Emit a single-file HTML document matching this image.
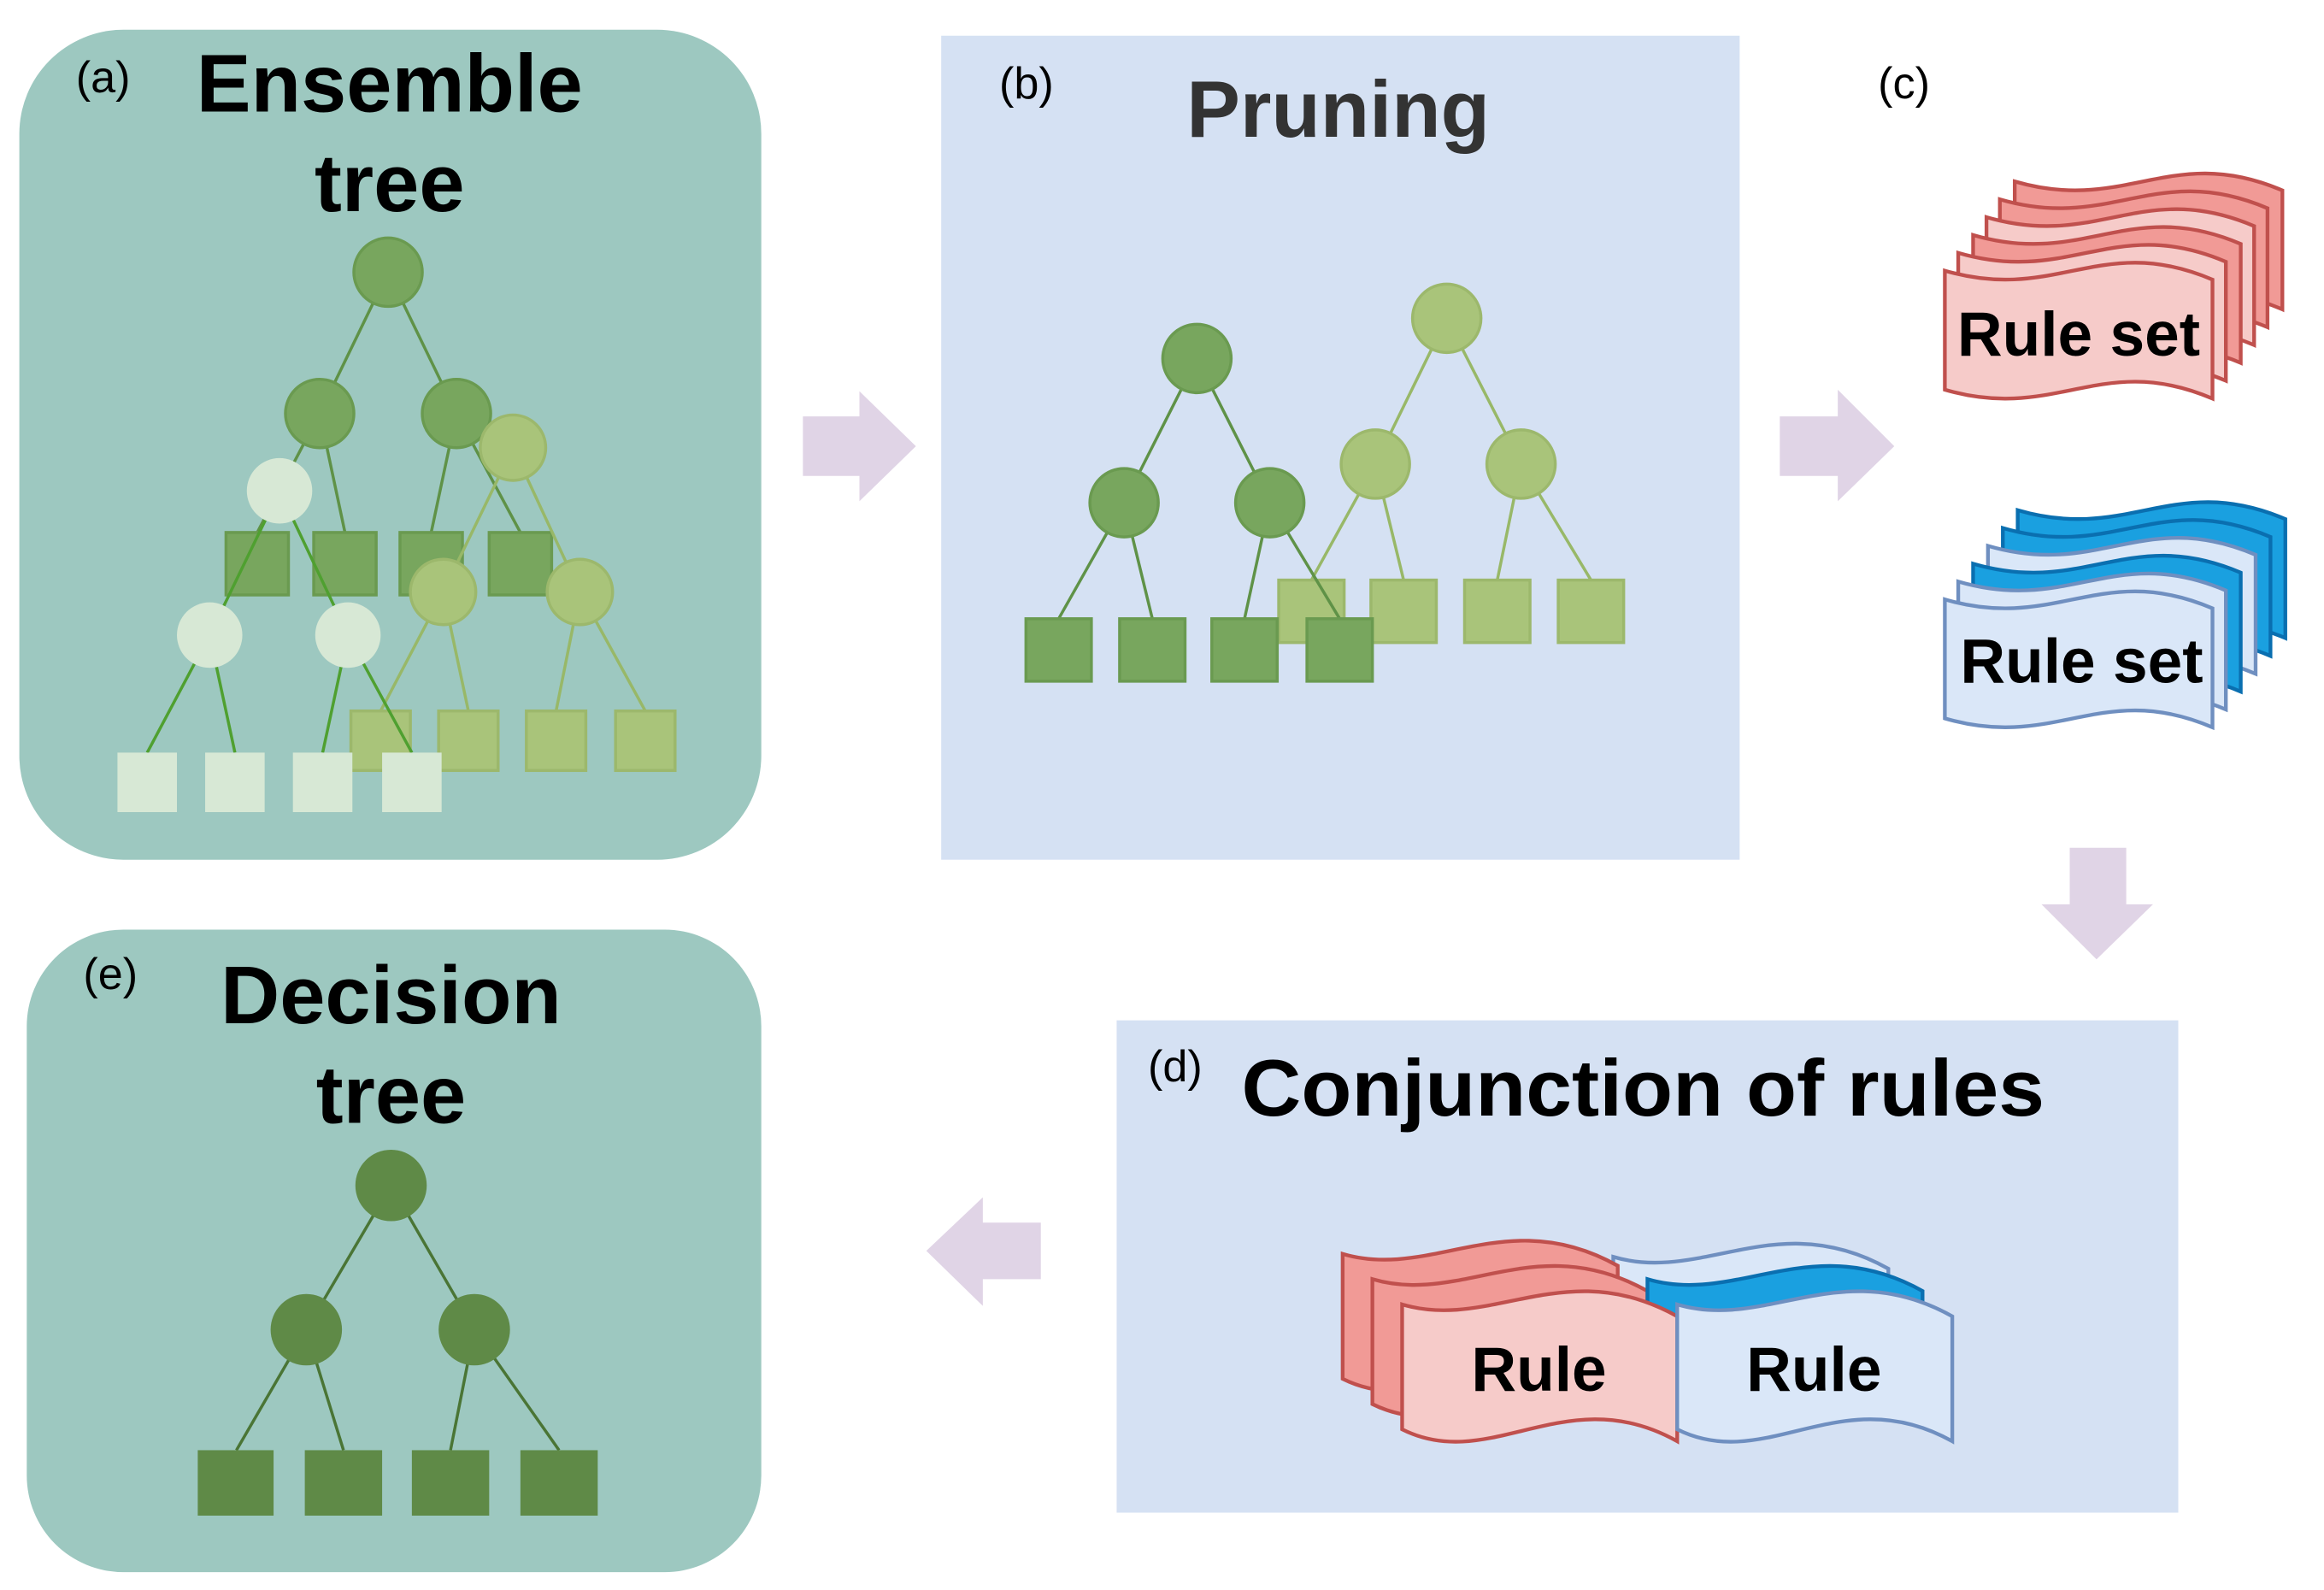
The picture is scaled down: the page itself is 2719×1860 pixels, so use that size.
<!DOCTYPE html>
<html><head><style>html,body{margin:0;padding:0;background:#fff}svg{display:block}</style></head>
<body>
<svg width="2719" height="1860" viewBox="0 0 1563 1069" preserveAspectRatio="none" xmlns="http://www.w3.org/2000/svg" font-family="Liberation Sans, Arial, sans-serif">
<defs>
<path id="ban" d="M0,0 C75,22 105,-26 180,6 L180,86 C105,54 75,102 0,80 Z"/>
<path id="ban2" d="M0,0 C60,18 110,-34 185,8 L185,92 C110,50 60,114 0,84 Z"/>
</defs>
<!-- (a) -->
<rect x="13" y="20" width="499" height="558" rx="70" fill="#9dc8c0"/>
<text x="51" y="62" font-size="30">(a)</text>
<text x="262" y="75" font-size="55" font-weight="bold" text-anchor="middle">Ensemble</text>
<text x="262" y="142" font-size="55" font-weight="bold" text-anchor="middle">tree</text>
<g stroke="#5f9247" stroke-width="2">
<line x1="261" y1="183" x2="215" y2="278"/><line x1="261" y1="183" x2="307" y2="278"/>
<line x1="215" y1="278" x2="173" y2="358"/><line x1="215" y1="278" x2="232" y2="358"/>
<line x1="307" y1="278" x2="290" y2="358"/><line x1="307" y1="278" x2="350" y2="358"/>
</g>
<g fill="#78a65e" stroke="#6a9a50" stroke-width="2">
<circle cx="261" cy="183" r="23"/><circle cx="215" cy="278" r="23"/><circle cx="307" cy="278" r="23"/>
<rect x="152" y="358" width="42" height="42"/><rect x="211" y="358" width="42" height="42"/><rect x="269" y="358" width="42" height="42"/><rect x="329" y="358" width="42" height="42"/>
</g>
<g stroke="#98b868" stroke-width="2">
<line x1="345" y1="301" x2="298" y2="398"/><line x1="345" y1="301" x2="390" y2="398"/>
<line x1="298" y1="398" x2="256" y2="478"/><line x1="298" y1="398" x2="315" y2="478"/>
<line x1="390" y1="398" x2="374" y2="478"/><line x1="390" y1="398" x2="434" y2="478"/>
</g>
<g fill="#a9c47a" stroke="#9cb86c" stroke-width="2">
<circle cx="345" cy="301" r="22"/><circle cx="298" cy="398" r="22"/><circle cx="390" cy="398" r="22"/>
<rect x="236" y="478" width="40" height="40"/><rect x="295" y="478" width="40" height="40"/><rect x="354" y="478" width="40" height="40"/><rect x="414" y="478" width="40" height="40"/>
</g>
<g stroke="#4fa030" stroke-width="2">
<line x1="188" y1="330" x2="141" y2="427"/><line x1="188" y1="330" x2="234" y2="427"/>
<line x1="141" y1="427" x2="99" y2="506"/><line x1="141" y1="427" x2="158" y2="506"/>
<line x1="234" y1="427" x2="217" y2="506"/><line x1="234" y1="427" x2="277" y2="506"/>
</g>
<g fill="#d7e8d5">
<circle cx="188" cy="330" r="22"/><circle cx="141" cy="427" r="22"/><circle cx="234" cy="427" r="22"/>
<rect x="79" y="506" width="40" height="40"/><rect x="138" y="506" width="40" height="40"/><rect x="197" y="506" width="40" height="40"/><rect x="257" y="506" width="40" height="40"/>
</g>
<!-- arrows -->
<g fill="#e0d4e6">
<polygon points="540,280 578,280 578,263 616,300 578,337 578,320 540,320"/>
<polygon points="1197,280 1236,280 1236,262 1274,300 1236,337 1236,320 1197,320"/>
<polygon points="1392,570 1430,570 1430,608 1448,608 1410,645 1373,608 1392,608"/>
<polygon points="700,822 661,822 661,805 623,841 661,878 661,860 700,860"/>
</g>
<!-- (b) -->
<rect x="633" y="24" width="537" height="554" fill="#d5e1f3"/>
<text x="672" y="66" font-size="30">(b)</text>
<text x="900" y="92" font-size="54" font-weight="bold" fill="#333" text-anchor="middle">Pruning</text>
<g stroke="#98b868" stroke-width="2">
<line x1="973" y1="214" x2="925" y2="312"/><line x1="973" y1="214" x2="1023" y2="312"/>
<line x1="925" y1="312" x2="882" y2="390"/><line x1="925" y1="312" x2="944" y2="390"/>
<line x1="1023" y1="312" x2="1007" y2="390"/><line x1="1023" y1="312" x2="1070" y2="390"/>
</g>
<g fill="#a9c47a" stroke="#9cb86c" stroke-width="2">
<circle cx="973" cy="214" r="23"/><circle cx="925" cy="312" r="23"/><circle cx="1023" cy="312" r="23"/>
<rect x="860" y="390" width="44" height="42"/><rect x="922" y="390" width="44" height="42"/><rect x="985" y="390" width="44" height="42"/><rect x="1048" y="390" width="44" height="42"/>
</g>
<g stroke="#5f9247" stroke-width="2">
<line x1="805" y1="241" x2="756" y2="338"/><line x1="805" y1="241" x2="854" y2="338"/>
<line x1="756" y1="338" x2="712" y2="416"/><line x1="756" y1="338" x2="775" y2="416"/>
<line x1="854" y1="338" x2="837" y2="416"/><line x1="854" y1="338" x2="901" y2="416"/>
</g>
<g fill="#78a65e" stroke="#6a9a50" stroke-width="2">
<circle cx="805" cy="241" r="23"/><circle cx="756" cy="338" r="23"/><circle cx="854" cy="338" r="23"/>
<rect x="690" y="416" width="44" height="42"/><rect x="753" y="416" width="44" height="42"/><rect x="815" y="416" width="44" height="42"/><rect x="879" y="416" width="44" height="42"/>
</g>
<!-- (c) -->
<text x="1263" y="66" font-size="30">(c)</text>
<g stroke="#c0504d" stroke-width="2.5">
<use href="#ban" transform="translate(1355,122)" fill="#f19a96"/>
<use href="#ban" transform="translate(1345,134)" fill="#f19a96"/>
<use href="#ban" transform="translate(1336,146)" fill="#f6cbc9"/>
<use href="#ban" transform="translate(1327,158)" fill="#f19a96"/>
<use href="#ban" transform="translate(1317,170)" fill="#f6cbc9"/>
<use href="#ban" transform="translate(1308,182)" fill="#f6cbc9"/>
</g>
<text x="1398" y="239" font-size="42" font-weight="bold" text-anchor="middle">Rule set</text>
<g stroke-width="2.5">
<use href="#ban" transform="translate(1357,343)" fill="#1aa0e0" stroke="#0a6fb0"/>
<use href="#ban" transform="translate(1347,355)" fill="#1aa0e0" stroke="#0a6fb0"/>
<use href="#ban" transform="translate(1337,367)" fill="#dae7f8" stroke="#6f8fc0"/>
<use href="#ban" transform="translate(1327,379)" fill="#1aa0e0" stroke="#0a6fb0"/>
<use href="#ban" transform="translate(1317,391)" fill="#dae7f8" stroke="#6f8fc0"/>
<use href="#ban" transform="translate(1308,403)" fill="#dae7f8" stroke="#6f8fc0"/>
</g>
<text x="1400" y="459" font-size="42" font-weight="bold" text-anchor="middle">Rule set</text>
<!-- (d) -->
<rect x="751" y="686" width="714" height="331" fill="#d5e1f3"/>
<text x="772" y="727" font-size="30">(d)</text>
<text x="835" y="750" font-size="54" font-weight="bold" textLength="540" lengthAdjust="spacingAndGlyphs">Conjunction of rules</text>
<g stroke-width="2.5">
<use href="#ban2" transform="translate(1085,845)" fill="#dae7f8" stroke="#6f8fc0"/>
<use href="#ban2" transform="translate(903,843)" fill="#f19a96" stroke="#c0504d"/>
<use href="#ban2" transform="translate(923,860)" fill="#f19a96" stroke="#c0504d"/>
<use href="#ban2" transform="translate(1108,860)" fill="#1aa0e0" stroke="#0a6fb0"/>
<use href="#ban2" transform="translate(943,877)" fill="#f6cbc9" stroke="#c0504d"/>
<use href="#ban2" transform="translate(1128,877)" fill="#dae7f8" stroke="#6f8fc0"/>
</g>
<text x="1035" y="935" font-size="42" font-weight="bold" text-anchor="middle">Rule</text>
<text x="1220" y="935" font-size="42" font-weight="bold" text-anchor="middle">Rule</text>
<!-- (e) -->
<rect x="18" y="625" width="494" height="432" rx="65" fill="#9dc8c0"/>
<text x="56" y="665" font-size="30">(e)</text>
<text x="263" y="688" font-size="55" font-weight="bold" text-anchor="middle">Decision</text>
<text x="263" y="755" font-size="55" font-weight="bold" text-anchor="middle">tree</text>
<g stroke="#4a7535" stroke-width="2">
<line x1="263" y1="797" x2="206" y2="894"/><line x1="263" y1="797" x2="319" y2="894"/>
<line x1="206" y1="894" x2="159" y2="975"/><line x1="206" y1="894" x2="231" y2="975"/>
<line x1="319" y1="894" x2="303" y2="975"/><line x1="319" y1="894" x2="376" y2="975"/>
</g>
<g fill="#5f8a47">
<circle cx="263" cy="797" r="24"/><circle cx="206" cy="894" r="24"/><circle cx="319" cy="894" r="24"/>
<rect x="133" y="975" width="51" height="44"/><rect x="205" y="975" width="52" height="44"/><rect x="277" y="975" width="52" height="44"/><rect x="350" y="975" width="52" height="44"/>
</g>
</svg>
</body></html>
